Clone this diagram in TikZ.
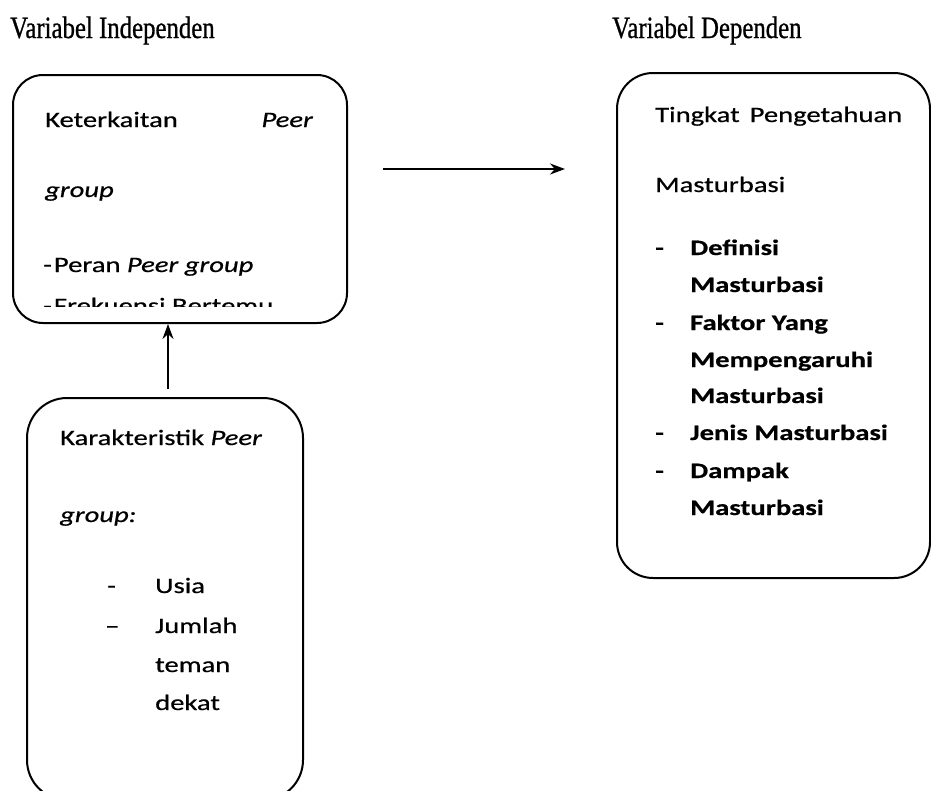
\documentclass[tikz,border=0pt]{standalone}
\usepackage{fontspec}
\setmainfont{Liberation Serif}
\newfontfamily\bodyfont[FakeStretch=1.3,FakeBold=0.6]{Carlito}
\newfontfamily\headfont[FakeStretch=0.8,FakeBold=0.8]{Liberation Serif}
\usetikzlibrary{arrows.meta,calc}
\begin{document}
\begin{tikzpicture}[x=1pt,y=-1pt,
  box/.style={draw, line width=2pt, rounded corners=#1, inner sep=0pt},
  txt/.style={anchor=base west, inner sep=0pt, font=\bodyfont\fontsize{22}{26}\selectfont},
  txtb/.style={txt, font=\bodyfont\fontsize{22}{26}\selectfont\bfseries},
  txte/.style={txt, anchor=base east},
  head/.style={anchor=base west, inner sep=0pt, font=\headfont\fontsize{31}{35}\selectfont},
  arr/.style={line width=2pt, -{Stealth[length=15pt,width=11pt]}}]
\useasboundingbox (0,0) rectangle (931,790);

% titles
\node[head] (t1) at (10,38) {Variabel Independen};
\node[head] (t2) at (612,38) {Variabel Dependen};

% boxes
\node[box=30pt, minimum width=334pt, minimum height=248pt] (b1) at (180,199) {};
\node[box=36pt, minimum width=313pt, minimum height=505pt] (b2) at (773.5,325.5) {};
\node[box=40pt, minimum width=276pt, minimum height=402pt] (b3) at (165,599) {};

% box 1 text
\node[txt] (k1) at (45,127) {Keterkaitan};
\node[txte] (k2) at (313,127) {\itshape Peer};
\node[txt] (k3) at (45,197) {\itshape group};
\node[txt] (k4) at (43,272) {-\hspace{2pt}Peran \textit{Peer group}};
\begin{scope}
  \clip (20,250) rectangle (340,306);
  \node[txt] (k5) at (43,313) {-\hspace{2pt}Frekuensi Bertemu};
\end{scope}

% box 2 text
\node[txt] (d1) at (655,122) {Tingkat\hspace{10pt}Pengetahuan};
\node[txt] (d2) at (655,192) {Masturbasi};
\node[txtb] (d3a) at (655,255) {-};
\node[txtb] (d3) at (690,255) {Definisi};
\node[txtb] (d4) at (690,292) {Masturbasi};
\node[txtb] (d5a) at (655,330) {-};
\node[txtb] (d5) at (690,330) {Faktor Yang};
\node[txtb] (d6) at (690,367) {Mempengaruhi};
\node[txtb] (d7) at (690,403) {Masturbasi};
\node[txtb] (d8a) at (655,440) {-};
\node[txtb] (d8) at (690,440) {Jenis Masturbasi};
\node[txtb] (d9a) at (655,478) {-};
\node[txtb] (d9) at (690,478) {Dampak};
\node[txtb] (d10) at (690,515) {Masturbasi};

% box 3 text
\node[txt] (c1) at (60,445) {Karakteristik \textit{Peer}};
\node[txt] (c2) at (60,522) {\itshape group:};
\node[txt] (c3a) at (107,593) {-};
\node[txt] (c3) at (155,593) {Usia};
\node[txt] (c4a) at (105,633) {–};
\node[txt] (c4) at (155,633) {Jumlah};
\node[txt] (c5) at (155,672) {teman};
\node[txt] (c6) at (155,710) {dekat};

% arrows
\coordinate (h1) at (383,169);
\coordinate (h2) at (565,169);
\draw[arr] (h1) -- (h2);
\draw[arr] ([xshift=3pt,yshift=8pt]b3.north) -- ([xshift=3pt]b3.north |- b1.south);
\end{tikzpicture}
\end{document}
